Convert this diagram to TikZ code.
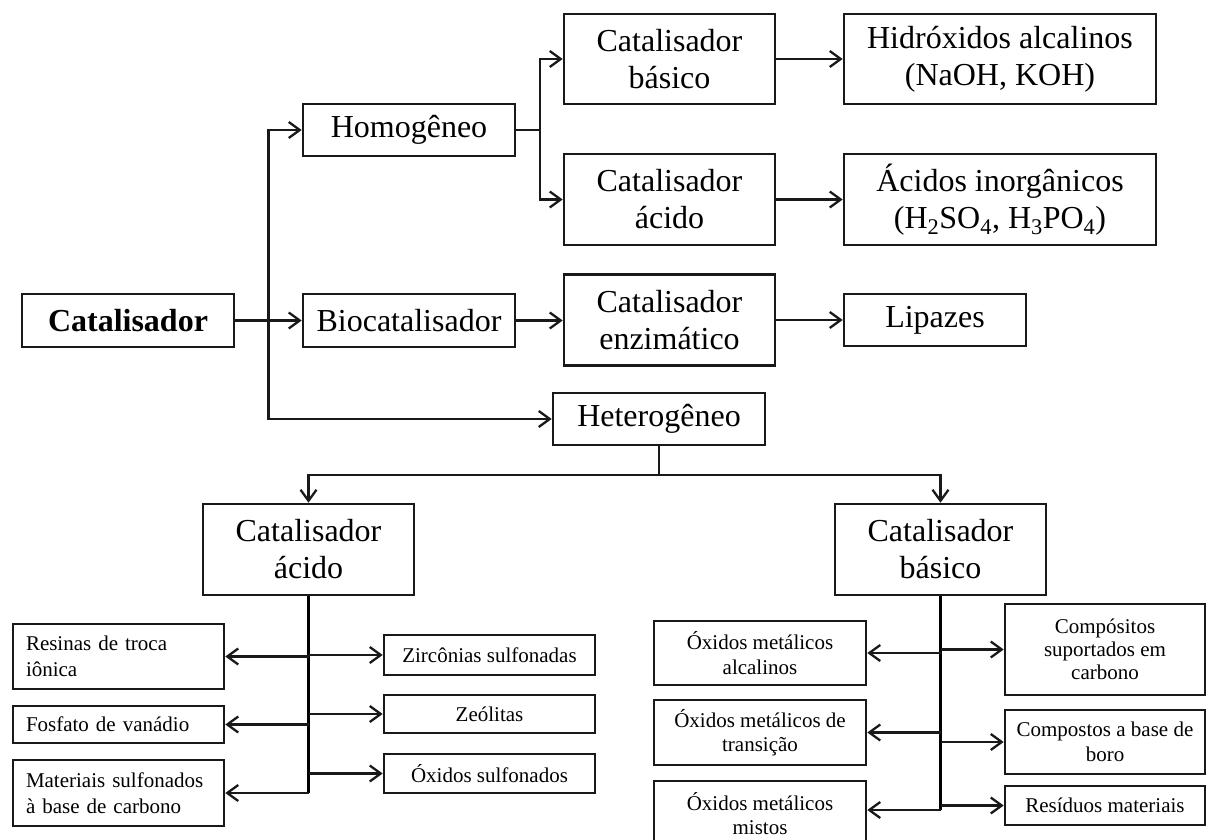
\documentclass[tikz,border=0pt]{standalone}
\usepackage{fontspec}
\setmainfont{Liberation Serif}
\usetikzlibrary{arrows.meta,calc}
\begin{document}
\begin{tikzpicture}[x=1pt,y=-1pt,
  bx/.style={draw=black!90, line width=2.6pt, fill=white, inner sep=0pt, align=center,
    font=\fontsize{32}{37}\selectfont},
  sbx/.style={draw=black!90, line width=2.6pt, fill=white, inner sep=0pt, align=center,
    font=\fontsize{21}{24.5}\selectfont},
  lbx/.style={draw=black!90, line width=2.6pt, fill=white, inner ysep=0pt, inner xsep=13pt,
    text width=185pt, align=left, font=\fontsize{21}{26}\selectfont},
  arr/.style={draw=black!90, line width=2.3pt, -{Straight Barb[length=11pt,width=16pt,line width=2.3pt]}},
  ln/.style={draw=black!90, line width=2.3pt},
  trunk/.style={draw=black, line width=3pt}
]
\useasboundingbox (0,0) rectangle (1208,840);
\clip (0,0) rectangle (1208,840);

% top level
\node[bx, minimum width=212pt, minimum height=53pt] (cat) at (128,320.5) {\bfseries Catalisador};
\node[bx, minimum width=212pt, minimum height=52pt] (homo) at (409,130) {Homogêneo};
\node[bx, minimum width=212pt, minimum height=53pt] (bio) at (409,320.5) {Biocatalisador};
\node[bx, minimum width=211pt, minimum height=90pt] (cb) at (669.5,59) {Catalisador\\básico};
\node[bx, minimum width=312pt, minimum height=90pt] (hid) at (1000,59) {Hidróxidos alcalinos\\(NaOH, KOH)};
\node[bx, minimum width=211pt, minimum height=91pt] (ca) at (669.5,199.5) {Catalisador\\ácido};
\node[bx, minimum width=312pt, minimum height=91pt] (aci) at (1000,199.5) {Ácidos inorgânicos\\(H\textsubscript{2}SO\textsubscript{4}, H\textsubscript{3}PO\textsubscript{4})};
\node[bx, minimum width=211pt, minimum height=91pt] (enz) at (669.5,320) {Catalisador\\enzimático};
\node[bx, minimum width=182pt, minimum height=52pt] (lip) at (935,320) {Lipazes};
\node[bx, minimum width=212pt, minimum height=52pt] (het) at (659,419) {Heterogêneo};
\node[bx, minimum width=211pt, minimum height=91pt] (hca) at (308.5,549.5) {Catalisador\\ácido};
\node[bx, minimum width=211pt, minimum height=91pt] (hcb) at (940.5,549.5) {Catalisador\\básico};

% acid leaves
\node[lbx, minimum height=65pt] (res) at (118.5,656.5) {Resinas de troca\\iônica};
\node[lbx, minimum height=37pt] (fos) at (118.5,724.5) {Fosfato de vanádio};
\node[lbx, minimum height=66pt] (mat) at (118.5,793) {Materiais sulfonados\\à base de carbono};
\node[sbx, minimum width=211pt, minimum height=40pt] (zir) at (489.5,655) {Zircônias sulfonadas};
\node[sbx, minimum width=211pt, minimum height=38pt] (zeo) at (489.5,714) {Zeólitas};
\node[sbx, minimum width=211pt, minimum height=39pt] (oxs) at (489.5,773.5) {Óxidos sulfonados};

% basic leaves
\node[sbx, minimum width=212pt, minimum height=64pt] (oma) at (760,653) {Óxidos metálicos\\alcalinos};
\node[sbx, minimum width=212pt, minimum height=65pt] (omt) at (760,732.5) {Óxidos metálicos de\\transição};
\node[sbx, minimum width=212pt, minimum height=65pt] (omm) at (760,813.5) {Óxidos metálicos\\mistos};
\node[sbx, minimum width=200pt, minimum height=91pt, font=\fontsize{21}{23}\selectfont] (cmp) at (1105,649.5) {Compósitos\\suportados em\\carbono};
\node[sbx, minimum width=200pt, minimum height=64pt] (cbo) at (1105,742) {Compostos a base de\\boro};
\node[sbx, minimum width=200pt, minimum height=39pt] (rsd) at (1105,805.5) {Resíduos materiais};

% connectors top
\coordinate (t) at ($(cat.east)!0.5!(bio.west)$);
\draw[arr] (cat.east) -- (bio.west);
\draw[arr] (t) |- (homo.west);
\draw[arr] (t) |- (het.west);
\coordinate (s) at ($(homo.east)+(24,0)$);
\draw[ln] (homo.east) -- (s);
\draw[arr] (s) |- (cb.west);
\draw[arr] (s) |- (ca.west);
\draw[arr] (cb.east) -- (hid.west);
\draw[arr] (ca.east) -- (aci.west);
\draw[arr] (bio.east) -- (bio.east -| enz.west);
\draw[arr] (enz.east) -- (enz.east -| lip.west);

% heterogeneous split
\coordinate (hj) at ($(het.south)+(0,29)$);
\draw[ln] (het.south) -- (hj);
\draw[arr] (hj) -| (hca.north);
\draw[arr] (hj) -| (hcb.north);

% acid trunk
\draw[trunk] (hca.south) -- (hca.south |- mat.east);
\draw[arr] (hca.south |- res.east) -- (res.east);
\draw[arr] (hca.south |- fos.east) -- (fos.east);
\draw[arr] (hca.south |- mat.east) -- (mat.east);
\draw[arr] (hca.south |- zir.west) -- (zir.west);
\draw[arr] (hca.south |- zeo.west) -- (zeo.west);
\draw[arr] (hca.south |- oxs.west) -- (oxs.west);

% basic trunk
\coordinate (bend) at (940.5,810);
\draw[trunk] (hcb.south) -- (hcb.south |- bend);
\draw[arr] (hcb.south |- oma.east) -- (oma.east);
\draw[arr] (hcb.south |- omt.east) -- (omt.east);
\draw[arr] (bend) -- (bend -| omm.east);
\draw[arr] (hcb.south |- cmp.west) -- (cmp.west);
\draw[arr] (hcb.south |- cbo.west) -- (cbo.west);
\draw[arr] (hcb.south |- rsd.west) -- (rsd.west);
\end{tikzpicture}
\end{document}
